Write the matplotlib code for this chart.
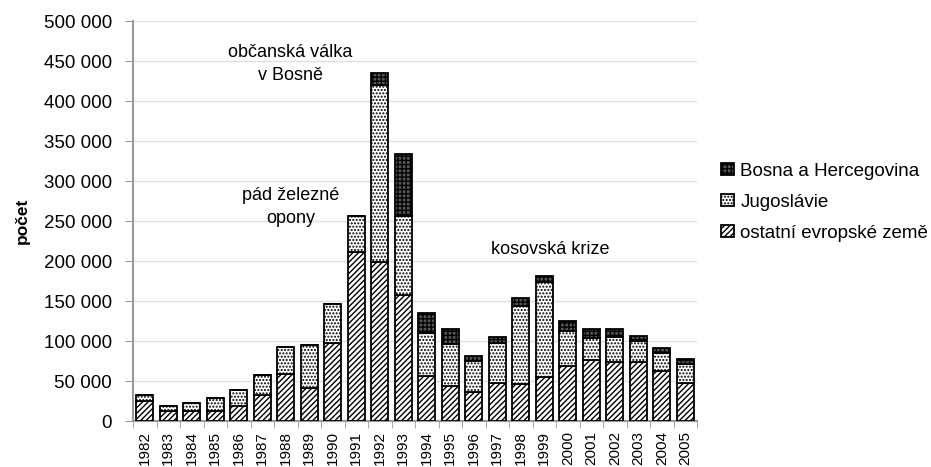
import matplotlib.pyplot as plt
import numpy as np
from matplotlib.ticker import FuncFormatter, MultipleLocator

plt.rcParams['font.family'] = ['Liberation Sans', 'DejaVu Sans']
plt.rcParams['hatch.linewidth'] = 1.0

years = [str(y) for y in range(1982, 2006)]
ostatni = [25000, 13000, 13000, 13000, 19000, 32000, 59000, 41000, 97000, 211000, 199000, 157500,
           56000, 44000, 36000, 48000, 46000, 55000, 69000, 76000, 74000, 74000, 62000, 48000]
jugoslavie = [7500, 5500, 10000, 16000, 20000, 26000, 34000, 54000, 49000, 45000, 221000, 98500,
              54000, 52000, 39000, 49000, 98000, 119000, 44000, 28000, 31000, 26000, 23000, 23000]
bosna = [0, 0, 0, 0, 0, 0, 0, 0, 0, 0, 15000, 78000,
         25000, 19000, 6000, 8000, 10000, 7000, 12000, 11000, 10000, 6000, 6000, 6000]

x = np.arange(len(years))
ost = np.array(ostatni)
jug = np.array(jugoslavie)
bos = np.array(bosna)

fig = plt.figure(figsize=(9.31, 4.67), dpi=100)
ax = fig.add_axes([0.1429, 0.0985, 0.6058, 0.8565])

w = 0.71
b1 = ax.bar(x, ost, w, color='white', edgecolor='black', hatch='//////', linewidth=1.3,
            label='ostatní evropské země', zorder=3)
b2 = ax.bar(x, jug, w, bottom=ost, color='white', edgecolor='black', hatch='.....', linewidth=1.3,
            label='Jugoslávie', zorder=3)
b3 = ax.bar(x, bos, w, bottom=ost + jug, color='#555555', edgecolor='black', hatch='++++',
            linewidth=1.3, label='Bosna a Hercegovina', zorder=3)

ax.set_xlim(-0.5, len(years) - 0.5)
ax.set_ylim(0, 500000)
ax.yaxis.set_major_locator(MultipleLocator(50000))
ax.yaxis.set_major_formatter(FuncFormatter(lambda v, p: f"{int(v):,}".replace(',', ' ')))
ax.grid(axis='y', color='#e0e0e0', linewidth=1, zorder=0)

ax.set_xticks(x)
ax.set_xticklabels(years, rotation=90, fontsize=11)
ax.set_xticks(np.arange(-0.5, len(years)), minor=True)
ax.tick_params(axis='x', which='major', length=0, pad=7)
ax.tick_params(axis='x', which='minor', length=5, color='#999999')
ax.tick_params(axis='y', length=6, color='#999999', labelsize=13.5, pad=9)

for s in ['top', 'right']:
    ax.spines[s].set_visible(False)
for s in ['left', 'bottom']:
    ax.spines[s].set_color('#999999')
    ax.spines[s].set_linewidth(1.5)

ax.set_ylabel('počet', fontsize=12.5, fontweight='bold', labelpad=10)

ax.text(6.2, 471000, 'občanská válka\nv Bosně', ha='center', va='top', fontsize=13,
        linespacing=1.45)
ax.text(6.2, 292000, 'pád železné\nopony', ha='center', va='top', fontsize=13,
        linespacing=1.45)
ax.text(17.25, 215000, 'kosovská krize', ha='center', va='center', fontsize=13)

ax.legend(handles=[b3, b2, b1], loc='upper left', bbox_to_anchor=(1.03, 0.665), frameon=False,
          fontsize=13.5, handlelength=0.65, handleheight=0.65, handletextpad=0.35, labelspacing=0.75,
          borderaxespad=0)

fig.savefig('out.png', dpi=100)
